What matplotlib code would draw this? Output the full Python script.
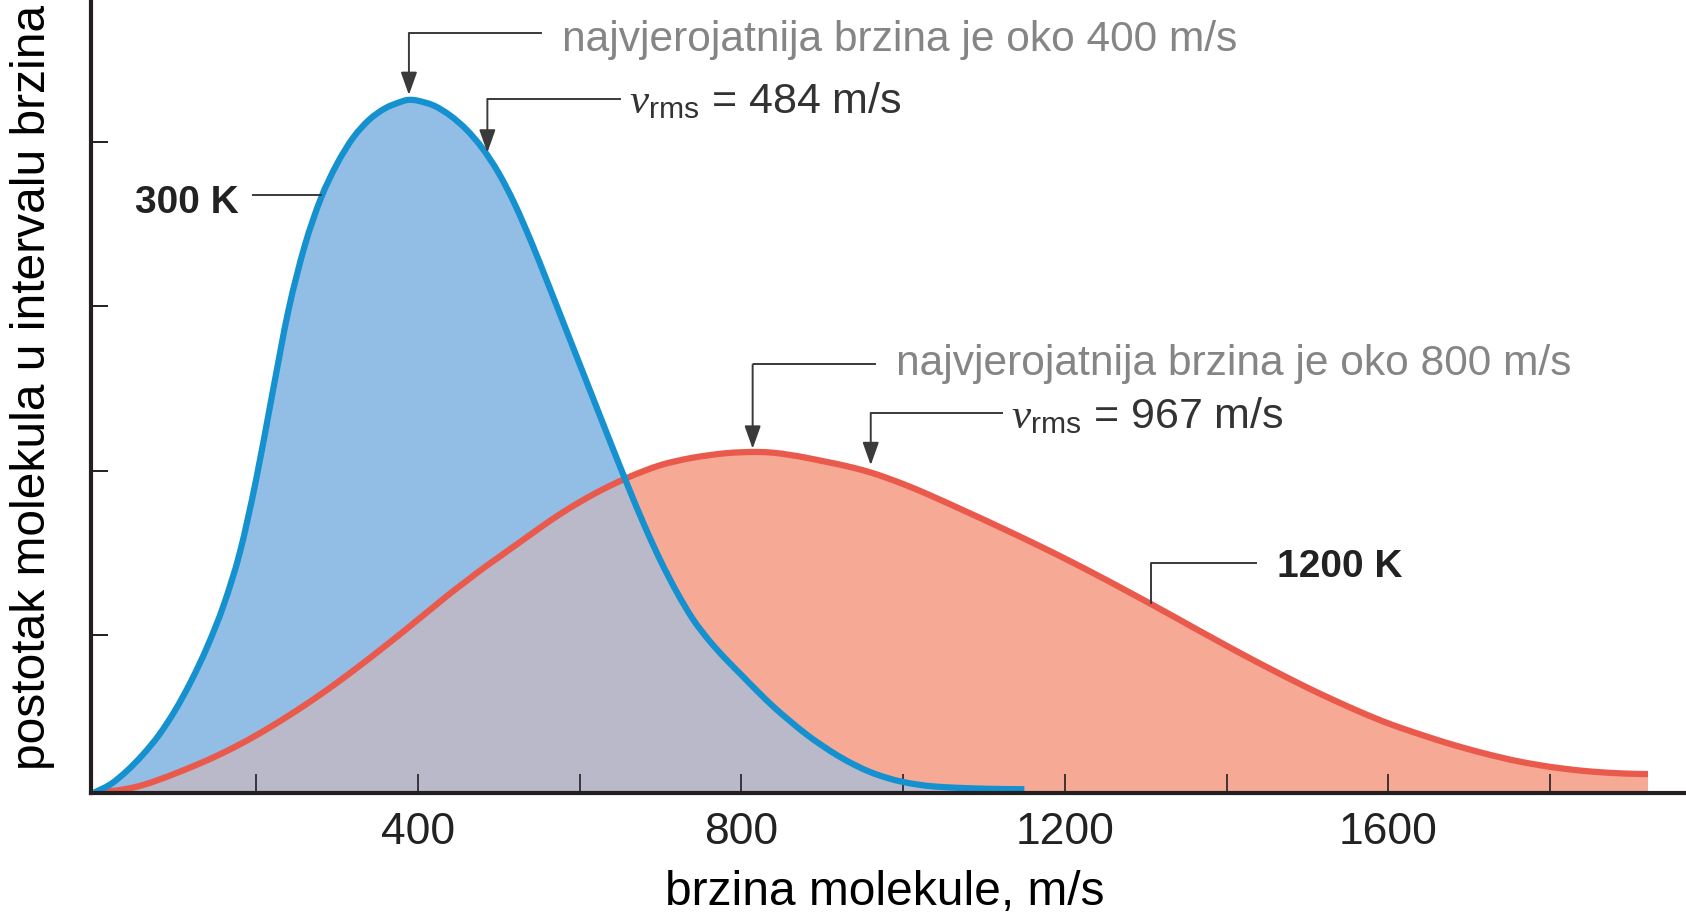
import matplotlib
matplotlib.use("Agg")
import numpy as np
import matplotlib.pyplot as plt
from matplotlib.path import Path
from matplotlib.patches import PathPatch

plt.rcParams['font.family'] = ['Liberation Sans', 'DejaVu Sans']
plt.rcParams['mathtext.fontset'] = 'custom'
plt.rcParams['mathtext.rm'] = 'Liberation Sans'
plt.rcParams['mathtext.it'] = 'Liberation Serif:italic'

# ---------------- data (speed in m/s, height in arbitrary percentage units) -------------
blue_speed = [0, 20, 40, 60, 80, 100, 120, 140, 160, 180, 200, 220, 240, 260, 280, 300,
              320, 340, 360, 380, 389, 400, 420, 440, 460, 480, 500, 520, 540, 560,
              580, 600, 620, 640, 660, 680, 700, 720, 740, 760, 780, 800, 820, 840,
              860, 880, 900, 920, 940, 960, 980, 1000, 1020, 1040, 1070, 1110, 1150]
blue_height = [0, 0.05, 0.13, 0.23, 0.35, 0.50, 0.68, 0.89, 1.14, 1.46, 1.90, 2.42,
               2.93, 3.32, 3.61, 3.82, 3.98, 4.09, 4.16, 4.20, 4.21, 4.205, 4.175,
               4.115, 4.03, 3.915, 3.765, 3.575, 3.35, 3.105, 2.855, 2.605, 2.355,
               2.105, 1.86, 1.625, 1.41, 1.22, 1.055, 0.925, 0.815, 0.715, 0.615, 0.52,
               0.435, 0.355, 0.285, 0.222, 0.168, 0.123, 0.089, 0.064, 0.047, 0.036,
               0.028, 0.022, 0.020]

red_speed = [0, 20, 40, 60, 80, 100, 120, 140, 160, 180, 200, 220, 240, 260, 280, 300,
             320, 340, 360, 380, 400, 420, 440, 460, 480, 500, 520, 540, 560, 580, 600,
             620, 640, 660, 680, 700, 720, 740, 760, 780, 800, 820, 840, 860, 880, 900,
             920, 940, 960, 980, 1000, 1020, 1040, 1060, 1080, 1100, 1120, 1140, 1160,
             1180, 1200, 1220, 1240, 1260, 1280, 1300, 1320, 1340, 1360, 1380, 1400,
             1420, 1440, 1460, 1480, 1500, 1520, 1540, 1560, 1580, 1600, 1620, 1640,
             1660, 1680, 1700, 1720, 1740, 1760, 1780, 1800, 1820, 1840, 1860, 1880,
             1900, 1921]
red_height = [0, 0.008, 0.022, 0.045, 0.078, 0.115, 0.155, 0.197, 0.243, 0.293, 0.347,
              0.405, 0.466, 0.53, 0.597, 0.667, 0.74, 0.815, 0.892, 0.97, 1.05, 1.13,
              1.21, 1.285, 1.36, 1.43, 1.50, 1.57, 1.64, 1.705, 1.765, 1.82, 1.87,
              1.915, 1.955, 1.99, 2.015, 2.035, 2.05, 2.062, 2.068, 2.07, 2.065, 2.052,
              2.035, 2.015, 1.995, 1.972, 1.945, 1.912, 1.875, 1.835, 1.792, 1.748,
              1.703, 1.658, 1.612, 1.566, 1.519, 1.471, 1.422, 1.372, 1.321, 1.269,
              1.216, 1.163, 1.109, 1.055, 1.0, 0.946, 0.892, 0.839, 0.787, 0.736, 0.686,
              0.637, 0.59, 0.545, 0.501, 0.459, 0.42, 0.385, 0.352, 0.32, 0.29, 0.262,
              0.236, 0.212, 0.19, 0.172, 0.156, 0.143, 0.132, 0.124, 0.118, 0.114,
              0.112]

x_major_ticks = [400, 800, 1200, 1600]
x_minor_ticks = [200, 600, 1000, 1400, 1800]
y_ticks = [0.955, 1.955, 2.955, 3.955]

label_300 = "300 K"
label_1200 = "1200 K"
mp_300 = 389      # most probable speed arrow, 300 K
rms_300 = 486
mp_1200 = 814
rms_1200 = 960
txt_mp_300 = "najvjerojatnija brzina je oko 400 m/s"
txt_rms_300 = r"$\mathit{v}_{\mathrm{rms}}$ = 484 m/s"
txt_mp_1200 = "najvjerojatnija brzina je oko 800 m/s"
txt_rms_1200 = r"$\mathit{v}_{\mathrm{rms}}$ = 967 m/s"

# ---------------- figure ----------------
W, H = 1686, 915
fig = plt.figure(figsize=(W / 100, H / 100), dpi=100)
ax = fig.add_axes([90.5 / W, (H - 792.5) / H, (W - 90.5) / W, (792.5 - 2) / H])
ax.set_xlim(-4.7, 1968)
ax.set_ylim(0, 4.805)
UNIT_PX = 164.5  # pixels per y unit

BLUE_LINE = '#1591cf'
BLUE_FILL = '#92bde5'
RED_LINE = '#ea5a4c'
RED_FILL = '#f6a995'
OVERLAP = '#b9b9c9'
AXC = '#231f20'
GRAY_TXT = '#858585'
DARK_TXT = '#333333'
LEAD = '#3a3a3a'


def smooth_path(xs, ys, close_to_base=False):
    """Smooth Bezier path through the given data points (Catmull-Rom tangents)."""
    pts = np.column_stack([xs, ys]).astype(float)
    n = len(pts)
    verts = [pts[0]]
    codes = [Path.MOVETO]
    for i in range(n - 1):
        p0 = pts[i - 1] if i > 0 else pts[i]
        p1, p2 = pts[i], pts[i + 1]
        p3 = pts[i + 2] if i + 2 < n else pts[i + 1]
        verts += [p1 + (p2 - p0) / 6.0, p2 - (p3 - p1) / 6.0, p2]
        codes += [Path.CURVE4] * 3
    if close_to_base:
        verts += [(pts[-1, 0], 0), (pts[0, 0], 0), (pts[0, 0], 0)]
        codes += [Path.LINETO, Path.LINETO, Path.CLOSEPOLY]
    return Path(verts, codes)


bfill = PathPatch(smooth_path(blue_speed, blue_height, True), facecolor=BLUE_FILL,
                  lw=0, zorder=1)
ax.add_patch(bfill)
ax.add_patch(PathPatch(smooth_path(red_speed, red_height, True), facecolor=RED_FILL,
                       lw=0, zorder=1.1))
ov = PathPatch(smooth_path(red_speed, red_height, True), facecolor=OVERLAP, lw=0,
               zorder=1.2)
ax.add_patch(ov)
ov.set_clip_path(bfill)

ax.add_patch(PathPatch(smooth_path(red_speed, red_height), fill=False,
                       edgecolor=RED_LINE, lw=4.5, capstyle='butt', joinstyle='round',
                       zorder=3))
ax.add_patch(PathPatch(smooth_path(blue_speed, blue_height), fill=False,
                       edgecolor=BLUE_LINE, lw=4.5, capstyle='butt', joinstyle='round',
                       zorder=3.1))

# axes styling
for s in ['top', 'right']:
    ax.spines[s].set_visible(False)
for s in ['left', 'bottom']:
    ax.spines[s].set_linewidth(3)
    ax.spines[s].set_color(AXC)
    ax.spines[s].set_zorder(5)
ax.patch.set_visible(False)

ax.set_xticks(x_major_ticks)
ax.set_xticks(x_minor_ticks, minor=True)
ax.set_xticklabels([str(t) for t in x_major_ticks])
ax.tick_params(axis='x', which='both', direction='in', length=14, width=1.2,
               color=AXC, labelsize=32, pad=14, labelcolor='#222222')
ax.set_yticks(y_ticks)
ax.set_yticklabels([])
ax.tick_params(axis='y', direction='in', length=12.5, width=1.4, color=AXC)

fig.text(885 / W, 1 - 905 / H, "brzina molekule, m/s", fontsize=34.5, color='black',
         ha='center', va='baseline')
fig.text(33 / W, 1 - 387 / H, "postotak molekula u intervalu brzina", rotation=90,
         fontsize=34.5, ha='center', va='center', color='black')


# --------------- annotations ----------------
def elbow(x_tip, y_tip, y_line, x_end):
    ax.plot([x_end, x_tip], [y_line, y_line], color=LEAD, lw=1.4, zorder=6,
            solid_capstyle='butt')
    ax.annotate('', xy=(x_tip, y_tip), xytext=(x_tip, y_line),
                arrowprops=dict(arrowstyle='-|>,head_length=0.7,head_width=0.25',
                                lw=1.4, color=LEAD, shrinkA=0, shrinkB=0,
                                mutation_scale=20), zorder=6)


def px(p):
    return p / UNIT_PX


elbow(mp_300, 4.24, 4.617, 554)
ax.text(578, 4.617 - px(18), txt_mp_300, fontsize=30.6, color=GRAY_TXT, ha='left',
        va='baseline')
elbow(rms_300, 3.89, 4.216, 651)
ax.text(661, 4.216 - px(14), txt_rms_300, fontsize=31, color=DARK_TXT, ha='left',
        va='baseline')
elbow(mp_1200, 2.09, 2.602, 966)
ax.text(991, 2.602 - px(11), txt_mp_1200, fontsize=30.6, color=GRAY_TXT, ha='left',
        va='baseline')
elbow(rms_1200, 1.99, 2.307, 1124)
ax.text(1133, 2.307 - px(15), txt_rms_1200, fontsize=31, color=DARK_TXT, ha='left',
        va='baseline')

# curve labels
ax.plot([196, 280], [3.634, 3.634], color=LEAD, lw=1.4, zorder=6)
ax.text(178.5, 3.523, label_300, fontsize=28, fontweight='bold', color='#222222',
        ha='right', va='baseline')
ax.plot([1436, 1306, 1306], [1.397, 1.397, 1.153], color=LEAD, lw=1.4, zorder=6)
ax.text(1462, 1.308, label_1200, fontsize=28, fontweight='bold', color='#222222',
        ha='left', va='baseline')

fig.savefig("out.png", dpi=100)
